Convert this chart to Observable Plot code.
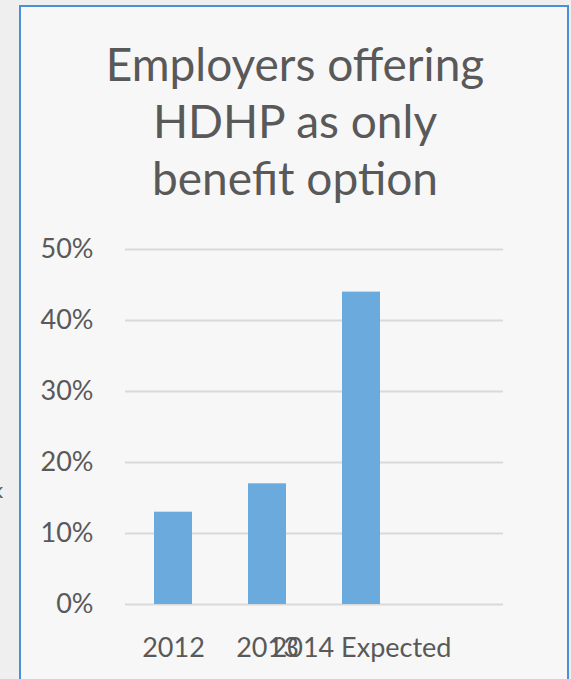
<!DOCTYPE html>
<html>
<head>
<meta charset="utf-8">
<script src="https://cdn.jsdelivr.net/npm/d3@7"></script>
<script src="https://cdn.jsdelivr.net/npm/@observablehq/plot@0.6"></script>
<style>
  html, body { margin: 0; padding: 0; }
  body {
    width: 571px; height: 679px; overflow: hidden; position: relative;
    background: #efefef;
    font-family: Lato, "Open Sans", sans-serif;
  }
  #frame {
    position: absolute; left: 19px; top: 5px; width: 546px; height: 700px;
    border: 2px solid #4a8fd8; background: #f7f7f7;
  }
  #title {
    position: absolute; left: 0; width: 590px; top: 35px;
    text-align: center; color: #595959; font-size: 46px; line-height: 57px;
  }
  #stray {
    position: absolute; left: -8px; top: 476px; font-size: 22px; color: #595959;
  }
  #chart { position: absolute; left: 0; top: 230px; }
</style>
</head>
<body>
<div id="stray">k</div>
<div id="frame"></div>
<div id="title">Employers offering<br>HDHP as only<br>benefit option</div>
<div id="chart"></div>
<script>
const categories = ["2012", "2013", "2014 Expected", ""];
const values = [13, 17, 44, null];
const yTicks = [0, 10, 20, 30, 40, 50];

const data = categories.map((c, i) => ({category: c, value: values[i]}));

const plot = Plot.plot({
  width: 571,
  height: 449,
  marginTop: 19,
  marginBottom: 75,
  marginLeft: 125,
  marginRight: 68,
  style: {fontFamily: "Lato, 'Open Sans', sans-serif", fontSize: "27px", color: "#595959", background: "transparent"},
  x: {domain: categories, paddingInner: 0.6, paddingOuter: 0.3, label: null},
  y: {domain: [0, 50], ticks: yTicks, label: null},
  marks: [
    Plot.ruleY(yTicks, {stroke: "#d9d9d9", strokeWidth: 2}),
    Plot.barY(data.filter(d => d.value != null), {x: "category", y: "value", fill: "#6aaadc"}),
    Plot.axisY({ticks: yTicks, tickSize: 0, tickPadding: 32, tickFormat: d => d + "%", fontSize: 27, label: null}),
    Plot.axisX({tickSize: 0, tickPadding: 33, fontSize: 27, label: null})
  ]
});
document.getElementById("chart").appendChild(plot);
</script>
</body>
</html>
